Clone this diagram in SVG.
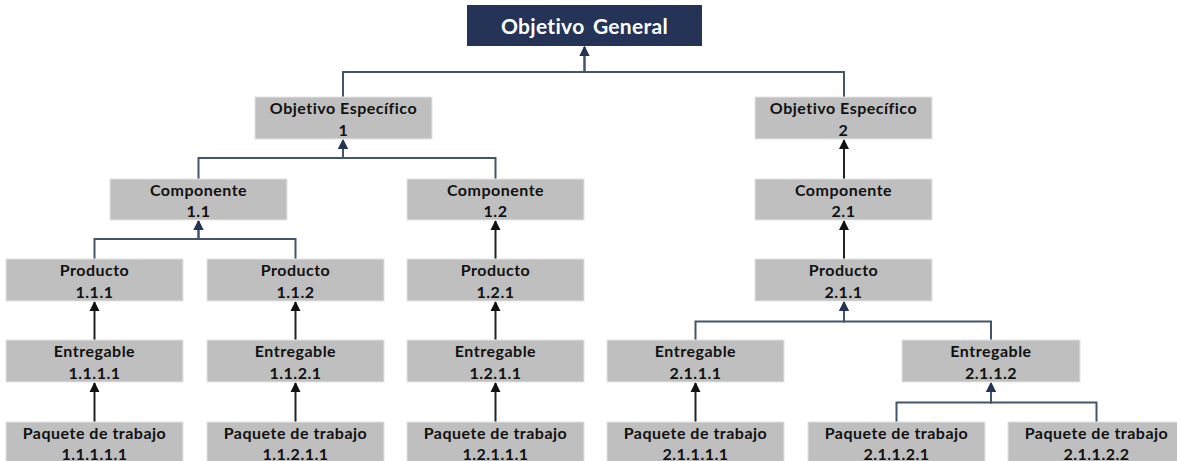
<svg xmlns="http://www.w3.org/2000/svg" width="1177" height="461" viewBox="0 0 1177 461">
<style>
.box{fill:#BFBFBF;stroke:#E4E4E4;stroke-width:1}
.t{font-family:Lato,"Liberation Sans",sans-serif;font-weight:bold;font-size:16px;letter-spacing:0.5px;fill:#111;text-anchor:middle}
.title{font-family:Lato,"Liberation Sans",sans-serif;font-weight:bold;font-size:21px;letter-spacing:0.3px;fill:#fff;text-anchor:middle;word-spacing:3px}
.nv{fill:none;stroke:#44546A;stroke-width:2}
.bk{fill:none;stroke:#222;stroke-width:2}
</style>
<defs>
<marker id="an" markerUnits="userSpaceOnUse" markerWidth="12" markerHeight="12" refX="5" refY="1" orient="0" viewBox="0 0 10 12" overflow="visible">
<path d="M0,10 L5,0 L10,10 Z" fill="#253356"/>
</marker>
<marker id="ab" markerUnits="userSpaceOnUse" markerWidth="12" markerHeight="12" refX="5" refY="1" orient="0" viewBox="0 0 10 12" overflow="visible">
<path d="M0,10 L5,0 L10,10 Z" fill="#111"/>
</marker>
</defs>
<rect width="1177" height="461" fill="#fff"/>
<g id="connectors">
<path class="nv" d="M343,97 V72 H584.5 V47" marker-end="url(#an)"/>
<path class="nv" d="M844,97 V72 H584.5 V47" marker-end="url(#an)"/>
<path class="nv" d="M198.5,179 V158 H343 V140" marker-end="url(#an)"/>
<path class="nv" d="M495.5,179 V158 H343 V140" marker-end="url(#an)"/>
<path class="bk" d="M844,179 V140" marker-end="url(#ab)"/>
<path class="nv" d="M94.5,259 V239 H198.5 V221" marker-end="url(#an)"/>
<path class="nv" d="M295.5,259 V239 H198.5 V221" marker-end="url(#an)"/>
<path class="bk" d="M495.5,259 V221" marker-end="url(#ab)"/>
<path class="bk" d="M844,259 V221" marker-end="url(#ab)"/>
<path class="bk" d="M94.5,340 V302" marker-end="url(#ab)"/>
<path class="bk" d="M295.5,340 V302" marker-end="url(#ab)"/>
<path class="bk" d="M495.5,340 V302" marker-end="url(#ab)"/>
<path class="nv" d="M695.5,340 V321.5 H844 V302" marker-end="url(#an)"/>
<path class="nv" d="M991,340 V321.5 H844 V302" marker-end="url(#an)"/>
<path class="bk" d="M94.5,422 V383" marker-end="url(#ab)"/>
<path class="bk" d="M295.5,422 V383" marker-end="url(#ab)"/>
<path class="bk" d="M495.5,422 V383" marker-end="url(#ab)"/>
<path class="bk" d="M695.5,422 V383" marker-end="url(#ab)"/>
<path class="nv" d="M896.5,422 V402.5 H991 V383" marker-end="url(#an)"/>
<path class="nv" d="M1096.5,422 V402.5 H991 V383" marker-end="url(#an)"/>
</g>
<g id="og"><rect x="467" y="5" width="235" height="41" fill="#253356"/><text class="title" x="584.5" y="33.5">Objetivo General</text></g>
<g id="oe1"><rect class="box" x="255" y="97" width="177" height="42"/><text class="t" x="343.5" y="114">Objetivo Específico</text><text class="t" x="343.5" y="135.5">1</text></g>
<g id="oe2"><rect class="box" x="755" y="97" width="177" height="42"/><text class="t" x="843.5" y="114">Objetivo Específico</text><text class="t" x="843.5" y="135.5">2</text></g>
<g id="c11"><rect class="box" x="110" y="179" width="177" height="41"/><text class="t" x="198.5" y="195.5">Componente</text><text class="t" x="198.5" y="216.5">1.1</text></g>
<g id="c12"><rect class="box" x="407" y="179" width="177" height="41"/><text class="t" x="495.5" y="195.5">Componente</text><text class="t" x="495.5" y="216.5">1.2</text></g>
<g id="c21"><rect class="box" x="755" y="179" width="177" height="41"/><text class="t" x="843.5" y="195.5">Componente</text><text class="t" x="843.5" y="216.5">2.1</text></g>
<g id="p111"><rect class="box" x="6" y="259" width="177" height="42"/><text class="t" x="94.5" y="276">Producto</text><text class="t" x="94.5" y="297.5">1.1.1</text></g>
<g id="p112"><rect class="box" x="207" y="259" width="177" height="42"/><text class="t" x="295.5" y="276">Producto</text><text class="t" x="295.5" y="297.5">1.1.2</text></g>
<g id="p121"><rect class="box" x="407" y="259" width="177" height="42"/><text class="t" x="495.5" y="276">Producto</text><text class="t" x="495.5" y="297.5">1.2.1</text></g>
<g id="p211"><rect class="box" x="755" y="259" width="177" height="42"/><text class="t" x="843.5" y="276">Producto</text><text class="t" x="843.5" y="297.5">2.1.1</text></g>
<g id="e1111"><rect class="box" x="6" y="340" width="177" height="42"/><text class="t" x="94.5" y="357">Entregable</text><text class="t" x="94.5" y="378.5">1.1.1.1</text></g>
<g id="e1121"><rect class="box" x="207" y="340" width="177" height="42"/><text class="t" x="295.5" y="357">Entregable</text><text class="t" x="295.5" y="378.5">1.1.2.1</text></g>
<g id="e1211"><rect class="box" x="407" y="340" width="177" height="42"/><text class="t" x="495.5" y="357">Entregable</text><text class="t" x="495.5" y="378.5">1.2.1.1</text></g>
<g id="e2111"><rect class="box" x="607" y="340" width="177" height="42"/><text class="t" x="695.5" y="357">Entregable</text><text class="t" x="695.5" y="378.5">2.1.1.1</text></g>
<g id="e2112"><rect class="box" x="902" y="340" width="178" height="42"/><text class="t" x="991" y="357">Entregable</text><text class="t" x="991" y="378.5">2.1.1.2</text></g>
<g id="w11111"><rect class="box" x="6" y="422" width="177" height="42"/><text class="t" x="94.5" y="439">Paquete de trabajo</text><text class="t" x="94.5" y="460">1.1.1.1.1</text></g>
<g id="w11211"><rect class="box" x="207" y="422" width="177" height="42"/><text class="t" x="295.5" y="439">Paquete de trabajo</text><text class="t" x="295.5" y="460">1.1.2.1.1</text></g>
<g id="w12111"><rect class="box" x="407" y="422" width="177" height="42"/><text class="t" x="495.5" y="439">Paquete de trabajo</text><text class="t" x="495.5" y="460">1.2.1.1.1</text></g>
<g id="w21111"><rect class="box" x="607" y="422" width="177" height="42"/><text class="t" x="695.5" y="439">Paquete de trabajo</text><text class="t" x="695.5" y="460">2.1.1.1.1</text></g>
<g id="w21121"><rect class="box" x="808" y="422" width="177" height="42"/><text class="t" x="896.5" y="439">Paquete de trabajo</text><text class="t" x="896.5" y="460">2.1.1.2.1</text></g>
<g id="w21122"><rect class="box" x="1008" y="422" width="177" height="42"/><text class="t" x="1096.5" y="439">Paquete de trabajo</text><text class="t" x="1096.5" y="460">2.1.1.2.2</text></g>
</svg>
